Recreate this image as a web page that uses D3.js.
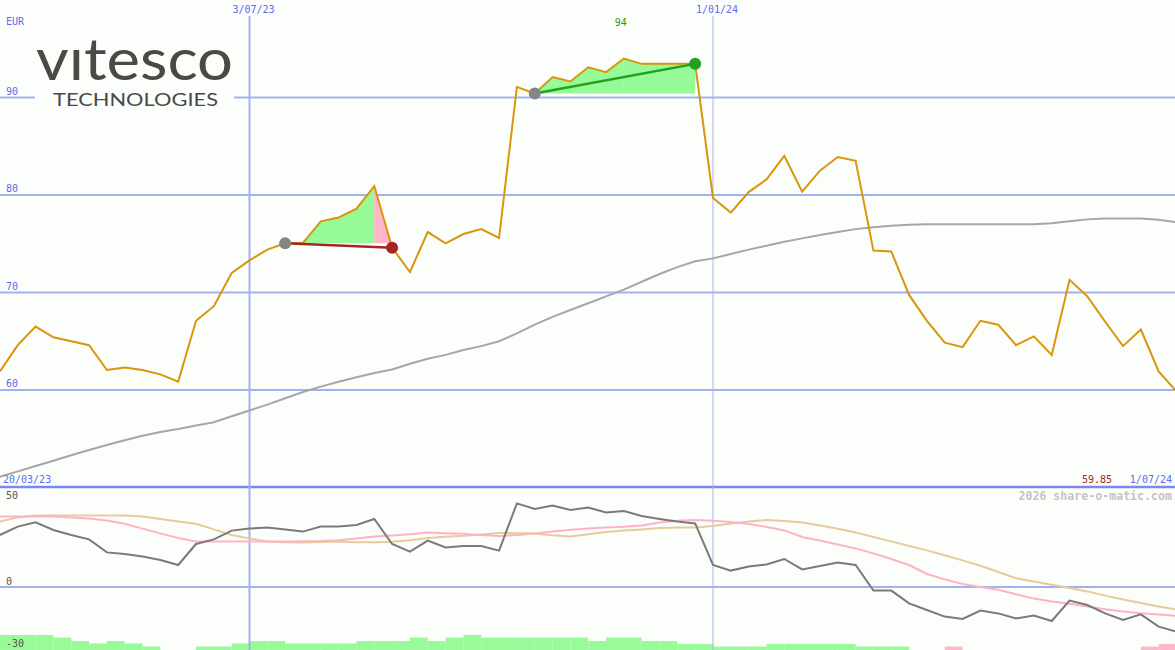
<!DOCTYPE html>
<html><head><meta charset="utf-8">
<script src="https://cdn.jsdelivr.net/npm/d3@7"></script>
<style>
html,body{margin:0;padding:0;background:#fcfefc;}
svg{display:block;}
text{font-family:"DejaVu Sans Mono",monospace;}
</style></head>
<body><svg id="c" width="1175" height="650"></svg>
<script>
// ---- data (weekly, Mondays 27/03/23 .. 1/07/24) ----
const startLabel = "20/03/23", endLabel = "1/07/24", currency = "EUR";
const lastPrice = "59.85";
const price = [61.9,64.6,66.5,65.4,65.0,64.6,62.05,62.3,62.05,61.6,60.85,67.1,68.6,72.0,
  73.3,74.4,75.05,75.1,77.3,77.7,78.6,80.9,74.6,72.1,
  76.2,75.05,76.0,76.5,75.6,91.1,90.4,92.1,91.65,93.1,
  92.6,94.0,93.45,93.45,93.45,93.45,79.7,78.2,80.3,81.6,
  84.0,80.35,82.5,83.9,83.5,74.3,74.2,69.75,67.1,64.85,
  64.4,67.1,66.7,64.6,65.5,63.6,71.3,69.6,67.0,64.5,
  66.2,61.9,59.85];
const movingAvg = [51.1,51.65,52.2,52.75,53.3,53.85,54.35,54.85,55.3,55.7,56.0,56.35,56.7,57.3,
  57.9,58.5,59.15,59.8,60.35,60.85,61.3,61.75,62.1,62.7,
  63.2,63.6,64.1,64.5,65.0,65.8,66.7,67.5,68.2,68.9,
  69.6,70.3,71.1,71.9,72.6,73.2,73.5,73.95,74.4,74.8,
  75.2,75.55,75.9,76.2,76.5,76.7,76.85,76.95,77.0,77.0,
  77.0,77.0,77.0,77.0,77.0,77.1,77.3,77.5,77.6,77.6,
  77.6,77.45,77.2];
const oscDark = [26,30.2,32.3,28.5,26,23.8,17.3,16.5,15.2,13.5,11,21.5,23.8,28.2,
  29.2,29.7,28.8,27.7,30.2,30.2,31,34,21.5,17.7,
  23.2,19.8,20.5,20.5,18.2,41.8,39,40.7,38.5,39.7,
  37.3,38,35.5,34,32.7,31.8,11,8.2,10.2,11.3,
  14,8.8,10.5,12.2,11,-1.8,-1.8,-8.2,-11.5,-14.8,
  -16,-11.8,-13.2,-15.7,-14.3,-17,-6.8,-9,-13.2,-16.5,
  -13.7,-19.8,-22.3];
const oscPink = [35.2,35.2,35.2,35.2,34.8,34.3,33.2,31.6,29.2,26.8,24.5,22.7,22.7,22.7,
  22.7,22.7,22.8,22.9,23.0,23.4,24.3,25.2,25.8,26.4,
  27.2,26.9,26.6,26.0,25.5,26.0,26.8,27.8,28.6,29.3,
  29.8,30.1,30.8,32.2,33.1,33.5,33.1,32.5,31.5,30.0,
  28.3,25.0,23.2,21.3,19.3,16.8,14.0,11.0,6.5,3.8,
  1.5,0.0,-1.4,-3.6,-5.8,-7.2,-8.4,-9.8,-11.1,-12.2,
  -13.1,-13.7,-14.4];
const oscTan = [32.7,34.8,35.7,35.7,35.7,35.7,35.7,35.7,35.2,34.0,32.8,31.6,28.8,26.0,
  24.3,22.7,22.4,22.2,22.5,22.7,22.4,22.4,22.6,23.4,
  24.5,25.1,25.6,26.3,27.0,26.9,26.7,25.9,25.3,26.4,
  27.5,28.2,28.8,29.5,29.7,29.7,30.5,31.7,32.7,33.5,
  33.0,32.2,30.8,29.1,27.3,25.0,22.8,20.5,18.3,15.9,
  13.3,10.6,7.5,4.4,2.7,1.1,-0.5,-2.2,-4.3,-6.3,
  -8.0,-9.7,-11.2];
// histogram: one value per week interval (66)
const histo = [7.5,7.5,7.5,6.2,4.5,3.3,4.5,3.3,1.7,0,0,1.7,1.7,3.3,
  4.5,4.5,3.3,3.3,3.3,3.3,4.5,4.5,4.5,6.2,
  4.5,6.2,7.5,6.2,6.2,6.2,6.2,6.2,6.2,4.5,
  6.2,6.2,4.5,4.5,3,3,1.7,1.7,1.7,3,
  3,3,3,3,1.7,1.7,1.7,0,0,-1.7,
  0,0,0,0,0,0,0,0,0,0,
  -1.7,-3];
const mainTicks = [60,70,80,90];
const lowTicks = [50,0,-30];
const dateMarks = [{d:new Date(2023,6,3), label:"3/07/23", major:true},
                   {d:new Date(2024,0,1), label:"1/01/24", major:false}];
const trades = [{from:new Date(2023,6,17), to:new Date(2023,7,28), win:false},
                {from:new Date(2023,9,23), to:new Date(2023,11,25), win:true}];

// ---- setup ----
const W = 1175, H = 650;
const svg = d3.select("#c");
const bg = "#fcfefc";
const grid = "#a3b1f2", blueText = "#5a6cf0";
svg.append("rect").attr("width",W).attr("height",H).attr("fill",bg);

const dates = d3.timeMonday.range(new Date(2023,2,27), new Date(2024,6,2));
const x = d3.scaleTime().domain([dateMarks[0].d, dateMarks[1].d]).range([249.5, 713]);
const y = d3.scaleLinear().domain([50,100]).range([487.5,0]);
const yl = d3.scaleLinear().domain([-31.5,50]).range([650,487]);

// grid main
mainTicks.forEach(v=>{
  svg.append("line").attr("x1",0).attr("x2",W).attr("y1",y(v)).attr("y2",y(v))
    .attr("stroke",grid).attr("stroke-width",2);
});
// lower zero line
svg.append("line").attr("x1",0).attr("x2",W).attr("y1",yl(0)).attr("y2",yl(0))
  .attr("stroke",grid).attr("stroke-width",2);
// separator
svg.append("line").attr("x1",0).attr("x2",W).attr("y1",487).attr("y2",487)
  .attr("stroke","#7b88ef").attr("stroke-width",2.5);

// histogram bars
const hb = svg.append("g");
histo.forEach((v,i)=>{
  if(!v) return;
  const x0 = x(dates[i]), x1 = x(dates[i+1]);
  hb.append("rect").attr("x",x0).attr("width",x1-x0)
    .attr("y",yl(-31.5+Math.abs(v))).attr("height",yl(-31.5)-yl(-31.5+Math.abs(v)))
    .attr("fill", v>0 ? "#98fa98" : "#ffb6c8");
});

// vertical date lines
dateMarks.forEach(m=>{
  svg.append("line").attr("x1",x(m.d)).attr("x2",x(m.d)).attr("y1",16).attr("y2",H)
    .attr("stroke", m.major ? grid : "#aab3e6").attr("stroke-width", m.major?2:1);
  svg.append("text").attr("x",x(m.d)+4).attr("y",13).attr("text-anchor","middle")
    .attr("font-size",10).attr("fill",blueText).text(m.label);
});

// logo block
svg.append("rect").attr("x",35).attr("y",28).attr("width",199).attr("height",84).attr("fill",bg);
svg.append("text").attr("x",36).attr("y",80).attr("textLength",197).attr("lengthAdjust","spacingAndGlyphs")
  .style("font-family","Lato, 'Open Sans', sans-serif").attr("font-size",58).attr("font-weight",400)
  .attr("fill","#4b4946").text("vıtesco");
svg.append("text").attr("x",53).attr("y",106).attr("textLength",165).attr("lengthAdjust","spacingAndGlyphs")
  .style("font-family","Lato, 'Open Sans', sans-serif").attr("font-size",17.5).attr("font-weight",400)
  .attr("fill","#4b4946").text("TECHNOLOGIES");

// trade fills
const idx = d => dates.findIndex(t=>+t===+d);
trades.forEach(t=>{
  const i0 = idx(t.from), i1 = idx(t.to);
  const entry = price[i0];
  let iMax = i0;
  for(let i=i0;i<=i1;i++) if(price[i]>price[iMax]) iMax=i;
  const pts = [];
  for(let i=i0;i<i1;i++){
    pts.push({x:x(dates[i]), v:price[i], i});
    const a=price[i]-entry, b=price[i+1]-entry;
    if(a*b<0){ const f=a/(a-b); pts.push({x:x(dates[i])+f*(x(dates[i+1])-x(dates[i])), v:entry, i:i+f}); }
  }
  pts.push({x:x(dates[i1]), v:price[i1], i:i1});
  const area = d3.area().x(p=>p.x).y0(y(entry)).y1(p=>y(Math.max(p.v,entry)));
  const before = pts.filter(p=>p.i<=iMax), after = pts.filter(p=>p.i>=iMax);
  svg.append("path").attr("d",area(before)).attr("fill","#96fa96");
  if(after.length>1) svg.append("path").attr("d",area(after)).attr("fill", t.win ? "#96fa96" : "#ffb6c8");
  t.i0=i0; t.i1=i1; t.iMax=iMax;
});

// lines
const line = d3.line().x((d,i)=>x(dates[i]));
svg.append("path").datum(movingAvg).attr("d",line.y(v=>y(v))).attr("fill","none")
  .attr("stroke","#a6a6a6").attr("stroke-width",2);
svg.append("path").datum(price).attr("d",line.y(v=>y(v))).attr("fill","none")
  .attr("stroke","#d9960c").attr("stroke-width",2).attr("stroke-linejoin","miter");

const lowLine = d3.line().x((d,i)=>x(dates[i])).y(v=>yl(v));
svg.append("path").datum(oscTan).attr("d",lowLine).attr("fill","none").attr("stroke","#e5cc9a").attr("stroke-width",2);
svg.append("path").datum(oscPink).attr("d",lowLine).attr("fill","none").attr("stroke","#ffb2c6").attr("stroke-width",2);
svg.append("path").datum(oscDark).attr("d",lowLine).attr("fill","none").attr("stroke","#7a7a7a").attr("stroke-width",2);

// trade lines and dots
trades.forEach(t=>{
  const col = t.win ? "#22a022" : "#a82424";
  svg.append("line").attr("x1",x(dates[t.i0])).attr("y1",y(price[t.i0]))
    .attr("x2",x(dates[t.i1])).attr("y2",y(price[t.i1]))
    .attr("stroke",col).attr("stroke-width",2.5);
  svg.append("circle").attr("cx",x(dates[t.i0])).attr("cy",y(price[t.i0])).attr("r",6).attr("fill","#858585");
  svg.append("circle").attr("cx",x(dates[t.i1])).attr("cy",y(price[t.i1])).attr("r",6).attr("fill",col);
  if(t.win){
    svg.append("text").attr("x",x(dates[t.iMax])-3).attr("y",26).attr("text-anchor","middle")
      .attr("font-size",10).attr("fill","#22a022").text(d3.format(".0f")(price[t.iMax]));
  }
});

// labels
svg.append("text").attr("x",6).attr("y",25).attr("font-size",10).attr("fill",blueText).text(currency);
mainTicks.forEach(v=>{
  svg.append("text").attr("x",6).attr("y",y(v)-3).attr("font-size",10).attr("fill",blueText).text(v);
});
lowTicks.forEach(v=>{
  const yy = v===50 ? yl(v)+12 : (v===0 ? yl(v)-2 : yl(v));
  svg.append("text").attr("x",6).attr("y",yy).attr("font-size",10).attr("fill","#555").text(v);
});
svg.append("text").attr("x",3).attr("y",483).attr("font-size",10).attr("fill",blueText).text(startLabel);
svg.append("text").attr("x",1172).attr("y",483).attr("text-anchor","end").attr("font-size",10).attr("fill",blueText).text(endLabel);
svg.append("text").attr("x",1112).attr("y",483).attr("text-anchor","end").attr("font-size",10).attr("fill","#a02828").text(lastPrice);
svg.append("text").attr("x",1172).attr("y",500).attr("text-anchor","end").attr("font-size",11.6)
  .attr("font-weight","bold").attr("fill","#c4c4c4").text("2026 share-o-matic.com");
</script></body></html>
